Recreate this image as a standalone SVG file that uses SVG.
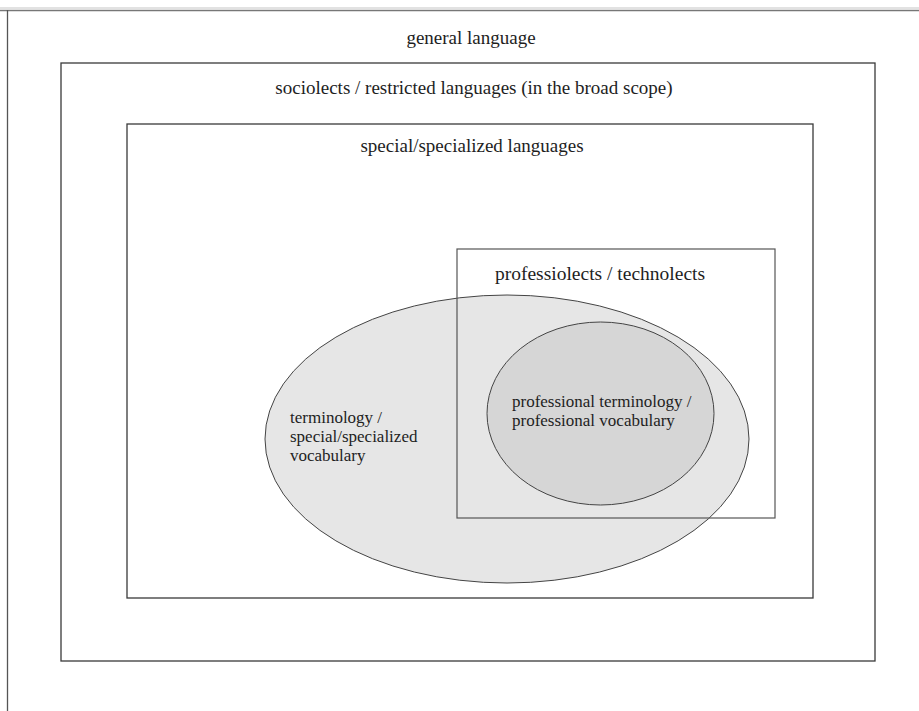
<svg xmlns="http://www.w3.org/2000/svg" width="919" height="711" viewBox="0 0 919 711">
<style>
.t{font-family:"Liberation Serif","Times New Roman",serif;font-size:19px;fill:#1e1e1e}
.s{font-size:17px}
.box{fill:none;stroke:#3a3a3a;stroke-width:1.3}
.c{text-anchor:middle}
</style>
<rect width="919" height="711" fill="#fff"/>
<g id="page-frame">
<line x1="0" y1="8" x2="919" y2="8" stroke="#e2e2e2" stroke-width="2"/>
<line x1="0" y1="10.5" x2="919" y2="10.5" stroke="#777" stroke-width="1.5"/>
<line x1="7.5" y1="10" x2="7.5" y2="711" stroke="#555" stroke-width="1.3"/>
</g>
<g id="general-language">
<text class="t c" x="471" y="44">general language</text>
</g>
<g id="sociolects">
<rect class="box" x="61" y="63" width="814" height="598"/>
<text class="t c" x="474" y="94">sociolects / restricted languages (in the broad scope)</text>
</g>
<g id="special-languages">
<rect class="box" x="127" y="124" width="686" height="474"/>
<text class="t c" x="472" y="152">special/specialized languages</text>
</g>
<g id="terminology">
<ellipse cx="507" cy="439" rx="242" ry="144" fill="#e6e6e6" stroke="#444" stroke-width="1"/>
<text class="t s" x="290" y="423">terminology /</text>
<text class="t s" x="290" y="442">special/specialized</text>
<text class="t s" x="290" y="461">vocabulary</text>
</g>
<g id="professiolects">
<rect x="457" y="249" width="318" height="269" fill="none" stroke="#555" stroke-width="1.2"/>
<text class="t c" style="font-size:19.5px" x="600" y="280">professiolects / technolects</text>
</g>
<g id="professional-terminology">
<ellipse cx="600.5" cy="413.5" rx="113.5" ry="91.5" fill="#d6d6d6" stroke="#444" stroke-width="1"/>
<text class="t s" x="512" y="407">professional terminology /</text>
<text class="t s" x="512" y="426">professional vocabulary</text>
</g>
<g id="connectors"></g>
</svg>
